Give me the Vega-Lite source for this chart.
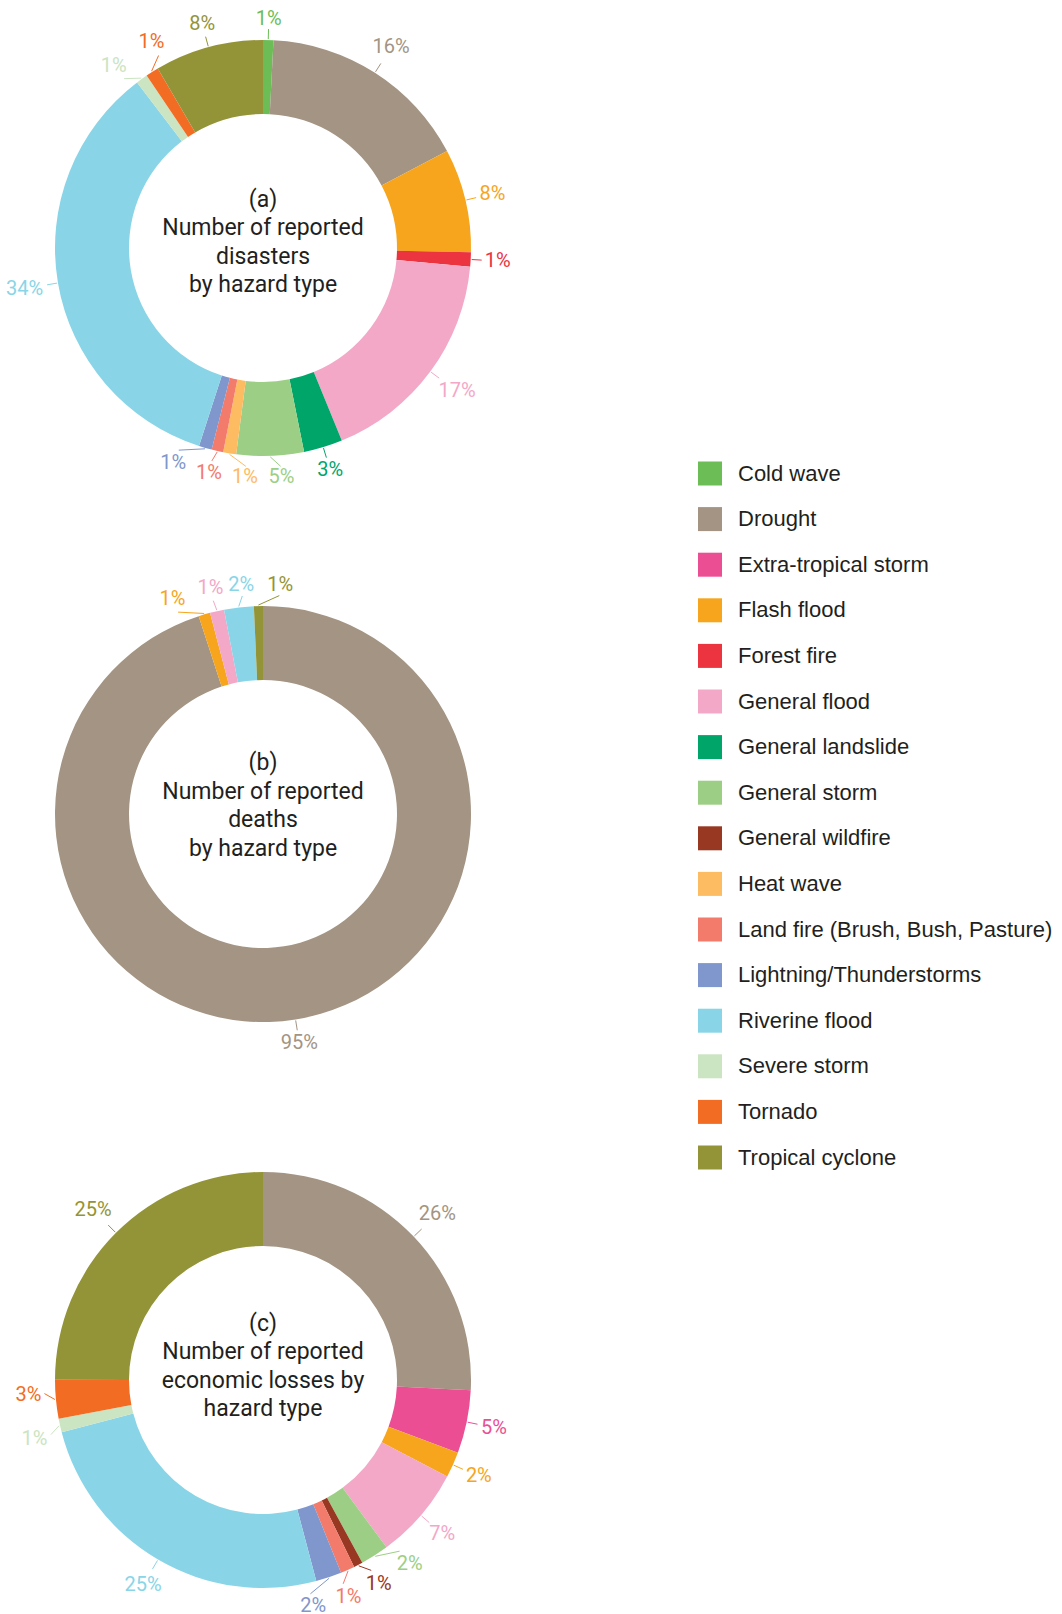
{
  "$schema": "https://vega.github.io/schema/vega-lite/v6.json",
  "background": "white",
  "padding": 0,
  "spacing": 96,
  "bounds": "flush",
  "datasets": {
    "slices": [
      {"chart": "a", "hazard": "Cold wave", "value": 0.8, "label": "1%"},
      {"chart": "a", "hazard": "Drought", "value": 16.4, "label": "16%"},
      {"chart": "a", "hazard": "Flash flood", "value": 8.0, "label": "8%"},
      {"chart": "a", "hazard": "Forest fire", "value": 1.1, "label": "1%"},
      {"chart": "a", "hazard": "General flood", "value": 17.3, "label": "17%"},
      {"chart": "a", "hazard": "General landslide", "value": 3.0, "label": "3%"},
      {"chart": "a", "hazard": "General storm", "value": 5.2, "label": "5%"},
      {"chart": "a", "hazard": "Heat wave", "value": 1.0, "label": "1%"},
      {"chart": "a", "hazard": "Land fire (Brush, Bush, Pasture)", "value": 0.9, "label": "1%"},
      {"chart": "a", "hazard": "Lightning/Thunderstorms", "value": 1.0, "label": "1%"},
      {"chart": "a", "hazard": "Riverine flood", "value": 34.5, "label": "34%"},
      {"chart": "a", "hazard": "Severe storm", "value": 0.9, "label": "1%"},
      {"chart": "a", "hazard": "Tornado", "value": 1.0, "label": "1%"},
      {"chart": "a", "hazard": "Tropical cyclone", "value": 8.4, "label": "8%"},
      {"chart": "b", "hazard": "Drought", "value": 95.0, "label": "95%"},
      {"chart": "b", "hazard": "Flash flood", "value": 0.9, "label": "1%"},
      {"chart": "b", "hazard": "General flood", "value": 1.1, "label": "1%"},
      {"chart": "b", "hazard": "Riverine flood", "value": 2.3, "label": "2%"},
      {"chart": "b", "hazard": "Tropical cyclone", "value": 0.7, "label": "1%"},
      {"chart": "c", "hazard": "Drought", "value": 25.8, "label": "26%"},
      {"chart": "c", "hazard": "Extra-tropical storm", "value": 4.9, "label": "5%"},
      {"chart": "c", "hazard": "Flash flood", "value": 2.0, "label": "2%"},
      {"chart": "c", "hazard": "General flood", "value": 7.2, "label": "7%"},
      {"chart": "c", "hazard": "General storm", "value": 2.2, "label": "2%"},
      {"chart": "c", "hazard": "General wildfire", "value": 0.7, "label": "1%"},
      {"chart": "c", "hazard": "Land fire (Brush, Bush, Pasture)", "value": 1.1, "label": "1%"},
      {"chart": "c", "hazard": "Lightning/Thunderstorms", "value": 2.0, "label": "2%"},
      {"chart": "c", "hazard": "Riverine flood", "value": 25.1, "label": "25%"},
      {"chart": "c", "hazard": "Severe storm", "value": 1.05, "label": "1%"},
      {"chart": "c", "hazard": "Tornado", "value": 3.0, "label": "3%"},
      {"chart": "c", "hazard": "Tropical cyclone", "value": 25.0, "label": "25%"}
    ]
  },
  "vconcat": [
    {
      "width": 526,
      "height": 470,
      "layer": [
        {
          "data": {"name": "slices"},
          "transform": [{"filter": "datum.chart == 'a'"}],
          "mark": {"type": "arc", "innerRadius": 134, "outerRadius": 208},
          "encoding": {
            "theta": {"field": "value", "type": "quantitative", "stack": true},
            "order": {"field": "hazard", "type": "ordinal", "sort": "ascending"},
            "x": {"datum": 0, "type": "quantitative", "scale": {"domain": [-263, 263], "nice": false, "zero": false}, "axis": null},
            "y": {"datum": 0, "type": "quantitative", "scale": {"domain": [-222, 248], "nice": false, "zero": false}, "axis": null},
            "color": {
              "field": "hazard", "type": "nominal",
              "scale": {
                "domain": ["Cold wave", "Drought", "Extra-tropical storm", "Flash flood", "Forest fire", "General flood", "General landslide", "General storm", "General wildfire", "Heat wave", "Land fire (Brush, Bush, Pasture)", "Lightning/Thunderstorms", "Riverine flood", "Severe storm", "Tornado", "Tropical cyclone"],
                "range": ["#6cbd56", "#a39483", "#ec4e94", "#f6a51d", "#ec3340", "#f3a8c8", "#00a56a", "#9ccf85", "#983722", "#fdbb62", "#f27b6c", "#7f97cc", "#89d5e7", "#cbe4c1", "#f36c24", "#939437"]
              },
              "legend": {
                "orient": "none", "legendX": 698, "legendY": 461.5, "title": null,
                "symbolType": "square", "symbolSize": 576, "symbolStrokeWidth": 0, "symbolOpacity": 1,
                "labelFont": "Liberation Sans", "labelFontSize": 22, "labelColor": "#231f20",
                "labelLimit": 500, "labelOffset": 16, "rowPadding": 21.6, "padding": 0
              }
            }
          }
        },
        {
          "data": {"name": "slices"},
          "transform": [
            {"filter": "datum.chart == 'a'"},
            {"stack": "value", "groupby": ["chart"], "sort": [{"field": "hazard", "order": "ascending"}], "as": ["v0", "v1"]},
            {"joinaggregate": [{"op": "sum", "field": "value", "as": "total"}]},
            {"calculate": "PI * (datum.v0 + datum.v1) / datum.total", "as": "a0"},
            {"window": [{"op": "lag", "field": "a0", "as": "p0"}, {"op": "lead", "field": "a0", "as": "n0"}], "sort": [{"field": "hazard", "order": "ascending"}]},
            {"calculate": "datum.a0 + (isValid(datum.p0) ? max(0, 0.19 - datum.a0 + datum.p0) / 2 : 0) - (isValid(datum.n0) ? max(0, 0.19 - datum.n0 + datum.a0) / 2 : 0)", "as": "a1"},
            {"window": [{"op": "lag", "field": "a1", "as": "p1"}, {"op": "lead", "field": "a1", "as": "n1"}], "sort": [{"field": "hazard", "order": "ascending"}]},
            {"calculate": "datum.a1 + (isValid(datum.p1) ? max(0, 0.19 - datum.a1 + datum.p1) / 2 : 0) - (isValid(datum.n1) ? max(0, 0.19 - datum.n1 + datum.a1) / 2 : 0)", "as": "a2"},
            {"window": [{"op": "lag", "field": "a2", "as": "p2"}, {"op": "lead", "field": "a2", "as": "n2"}], "sort": [{"field": "hazard", "order": "ascending"}]},
            {"calculate": "datum.a2 + (isValid(datum.p2) ? max(0, 0.19 - datum.a2 + datum.p2) / 2 : 0) - (isValid(datum.n2) ? max(0, 0.19 - datum.n2 + datum.a2) / 2 : 0)", "as": "a3"},
            {"calculate": "222 + abs(sin(datum.a3)) * 6.3 * length(datum.label) + abs(cos(datum.a3)) * 7", "as": "lr"},
            {"calculate": "datum.lr * sin(datum.a3)", "as": "lx"},
            {"calculate": "datum.lr * cos(datum.a3)", "as": "ly"},
            {"calculate": "209 * sin(datum.a0)", "as": "sx"},
            {"calculate": "209 * cos(datum.a0)", "as": "sy"},
            {"calculate": "219 * sin(datum.a3)", "as": "ex"},
            {"calculate": "219 * cos(datum.a3)", "as": "ey"}
          ],
          "layer": [
            {
              "mark": {"type": "rule", "strokeWidth": 1},
              "encoding": {
                "x": {"field": "sx", "type": "quantitative", "scale": {"domain": [-263, 263], "nice": false, "zero": false}, "axis": null},
                "y": {"field": "sy", "type": "quantitative", "scale": {"domain": [-222, 248], "nice": false, "zero": false}, "axis": null},
                "x2": {"field": "ex"},
                "y2": {"field": "ey"},
                "color": {"field": "hazard", "type": "nominal", "legend": null}
              }
            },
            {
              "mark": {"type": "text", "font": "Roboto", "fontSize": 20, "align": "center", "baseline": "middle"},
              "encoding": {
                "x": {"field": "lx", "type": "quantitative", "scale": {"domain": [-263, 263], "nice": false, "zero": false}, "axis": null},
                "y": {"field": "ly", "type": "quantitative", "scale": {"domain": [-222, 248], "nice": false, "zero": false}, "axis": null},
                "text": {"field": "label"},
                "color": {"field": "hazard", "type": "nominal", "legend": null}
              }
            }
          ]
        },
        {
          "data": {"values": [{"panel": "a"}]},
          "mark": {"type": "text", "font": "Roboto", "fontSize": 23, "lineHeight": 28.5, "color": "#231f20", "align": "center", "baseline": "middle"},
          "encoding": {
            "x": {"datum": 0, "type": "quantitative", "scale": {"domain": [-263, 263], "nice": false, "zero": false}, "axis": null},
            "y": {"datum": 48.25, "type": "quantitative", "scale": {"domain": [-222, 248], "nice": false, "zero": false}, "axis": null},
            "text": {"value": ["(a)", "Number of reported", "disasters", "by hazard type"]}
          }
        }
      ]
    },
    {
      "width": 526,
      "height": 470,
      "layer": [
        {
          "data": {"name": "slices"},
          "transform": [{"filter": "datum.chart == 'b'"}],
          "mark": {"type": "arc", "innerRadius": 134, "outerRadius": 208},
          "encoding": {
            "theta": {"field": "value", "type": "quantitative", "stack": true},
            "order": {"field": "hazard", "type": "ordinal", "sort": "ascending"},
            "x": {"datum": 0, "type": "quantitative", "scale": {"domain": [-263, 263], "nice": false, "zero": false}, "axis": null},
            "y": {"datum": 0, "type": "quantitative", "scale": {"domain": [-222, 248], "nice": false, "zero": false}, "axis": null},
            "color": {
              "field": "hazard", "type": "nominal",
              "legend": {
                "orient": "none", "legendX": 698, "legendY": 461.5, "title": null,
                "symbolType": "square", "symbolSize": 576, "symbolStrokeWidth": 0, "symbolOpacity": 1,
                "labelFont": "Liberation Sans", "labelFontSize": 22, "labelColor": "#231f20",
                "labelLimit": 500, "labelOffset": 16, "rowPadding": 21.6, "padding": 0
              }
            }
          }
        },
        {
          "data": {"name": "slices"},
          "transform": [
            {"filter": "datum.chart == 'b'"},
            {"stack": "value", "groupby": ["chart"], "sort": [{"field": "hazard", "order": "ascending"}], "as": ["v0", "v1"]},
            {"joinaggregate": [{"op": "sum", "field": "value", "as": "total"}]},
            {"calculate": "PI * (datum.v0 + datum.v1) / datum.total", "as": "a0"},
            {"window": [{"op": "lag", "field": "a0", "as": "p0"}, {"op": "lead", "field": "a0", "as": "n0"}], "sort": [{"field": "hazard", "order": "ascending"}]},
            {"calculate": "datum.a0 + (isValid(datum.p0) ? max(0, 0.19 - datum.a0 + datum.p0) / 2 : 0) - (isValid(datum.n0) ? max(0, 0.19 - datum.n0 + datum.a0) / 2 : 0)", "as": "a1"},
            {"window": [{"op": "lag", "field": "a1", "as": "p1"}, {"op": "lead", "field": "a1", "as": "n1"}], "sort": [{"field": "hazard", "order": "ascending"}]},
            {"calculate": "datum.a1 + (isValid(datum.p1) ? max(0, 0.19 - datum.a1 + datum.p1) / 2 : 0) - (isValid(datum.n1) ? max(0, 0.19 - datum.n1 + datum.a1) / 2 : 0)", "as": "a2"},
            {"window": [{"op": "lag", "field": "a2", "as": "p2"}, {"op": "lead", "field": "a2", "as": "n2"}], "sort": [{"field": "hazard", "order": "ascending"}]},
            {"calculate": "datum.a2 + (isValid(datum.p2) ? max(0, 0.19 - datum.a2 + datum.p2) / 2 : 0) - (isValid(datum.n2) ? max(0, 0.19 - datum.n2 + datum.a2) / 2 : 0)", "as": "a3"},
            {"calculate": "222 + abs(sin(datum.a3)) * 6.3 * length(datum.label) + abs(cos(datum.a3)) * 7", "as": "lr"},
            {"calculate": "datum.lr * sin(datum.a3)", "as": "lx"},
            {"calculate": "datum.lr * cos(datum.a3)", "as": "ly"},
            {"calculate": "209 * sin(datum.a0)", "as": "sx"},
            {"calculate": "209 * cos(datum.a0)", "as": "sy"},
            {"calculate": "219 * sin(datum.a3)", "as": "ex"},
            {"calculate": "219 * cos(datum.a3)", "as": "ey"}
          ],
          "layer": [
            {
              "mark": {"type": "rule", "strokeWidth": 1},
              "encoding": {
                "x": {"field": "sx", "type": "quantitative", "scale": {"domain": [-263, 263], "nice": false, "zero": false}, "axis": null},
                "y": {"field": "sy", "type": "quantitative", "scale": {"domain": [-222, 248], "nice": false, "zero": false}, "axis": null},
                "x2": {"field": "ex"},
                "y2": {"field": "ey"},
                "color": {"field": "hazard", "type": "nominal", "legend": null}
              }
            },
            {
              "mark": {"type": "text", "font": "Roboto", "fontSize": 20, "align": "center", "baseline": "middle"},
              "encoding": {
                "x": {"field": "lx", "type": "quantitative", "scale": {"domain": [-263, 263], "nice": false, "zero": false}, "axis": null},
                "y": {"field": "ly", "type": "quantitative", "scale": {"domain": [-222, 248], "nice": false, "zero": false}, "axis": null},
                "text": {"field": "label"},
                "color": {"field": "hazard", "type": "nominal", "legend": null}
              }
            }
          ]
        },
        {
          "data": {"values": [{"panel": "b"}]},
          "mark": {"type": "text", "font": "Roboto", "fontSize": 23, "lineHeight": 28.5, "color": "#231f20", "align": "center", "baseline": "middle"},
          "encoding": {
            "x": {"datum": 0, "type": "quantitative", "scale": {"domain": [-263, 263], "nice": false, "zero": false}, "axis": null},
            "y": {"datum": 50.75, "type": "quantitative", "scale": {"domain": [-222, 248], "nice": false, "zero": false}, "axis": null},
            "text": {"value": ["(b)", "Number of reported", "deaths", "by hazard type"]}
          }
        }
      ]
    },
    {
      "width": 526,
      "height": 470,
      "layer": [
        {
          "data": {"name": "slices"},
          "transform": [{"filter": "datum.chart == 'c'"}],
          "mark": {"type": "arc", "innerRadius": 134, "outerRadius": 208},
          "encoding": {
            "theta": {"field": "value", "type": "quantitative", "stack": true},
            "order": {"field": "hazard", "type": "ordinal", "sort": "ascending"},
            "x": {"datum": 0, "type": "quantitative", "scale": {"domain": [-263, 263], "nice": false, "zero": false}, "axis": null},
            "y": {"datum": 0, "type": "quantitative", "scale": {"domain": [-222, 248], "nice": false, "zero": false}, "axis": null},
            "color": {
              "field": "hazard", "type": "nominal",
              "legend": {
                "orient": "none", "legendX": 698, "legendY": 461.5, "title": null,
                "symbolType": "square", "symbolSize": 576, "symbolStrokeWidth": 0, "symbolOpacity": 1,
                "labelFont": "Liberation Sans", "labelFontSize": 22, "labelColor": "#231f20",
                "labelLimit": 500, "labelOffset": 16, "rowPadding": 21.6, "padding": 0
              }
            }
          }
        },
        {
          "data": {"name": "slices"},
          "transform": [
            {"filter": "datum.chart == 'c'"},
            {"stack": "value", "groupby": ["chart"], "sort": [{"field": "hazard", "order": "ascending"}], "as": ["v0", "v1"]},
            {"joinaggregate": [{"op": "sum", "field": "value", "as": "total"}]},
            {"calculate": "PI * (datum.v0 + datum.v1) / datum.total", "as": "a0"},
            {"window": [{"op": "lag", "field": "a0", "as": "p0"}, {"op": "lead", "field": "a0", "as": "n0"}], "sort": [{"field": "hazard", "order": "ascending"}]},
            {"calculate": "datum.a0 + (isValid(datum.p0) ? max(0, 0.19 - datum.a0 + datum.p0) / 2 : 0) - (isValid(datum.n0) ? max(0, 0.19 - datum.n0 + datum.a0) / 2 : 0)", "as": "a1"},
            {"window": [{"op": "lag", "field": "a1", "as": "p1"}, {"op": "lead", "field": "a1", "as": "n1"}], "sort": [{"field": "hazard", "order": "ascending"}]},
            {"calculate": "datum.a1 + (isValid(datum.p1) ? max(0, 0.19 - datum.a1 + datum.p1) / 2 : 0) - (isValid(datum.n1) ? max(0, 0.19 - datum.n1 + datum.a1) / 2 : 0)", "as": "a2"},
            {"window": [{"op": "lag", "field": "a2", "as": "p2"}, {"op": "lead", "field": "a2", "as": "n2"}], "sort": [{"field": "hazard", "order": "ascending"}]},
            {"calculate": "datum.a2 + (isValid(datum.p2) ? max(0, 0.19 - datum.a2 + datum.p2) / 2 : 0) - (isValid(datum.n2) ? max(0, 0.19 - datum.n2 + datum.a2) / 2 : 0)", "as": "a3"},
            {"calculate": "222 + abs(sin(datum.a3)) * 6.3 * length(datum.label) + abs(cos(datum.a3)) * 7", "as": "lr"},
            {"calculate": "datum.lr * sin(datum.a3)", "as": "lx"},
            {"calculate": "datum.lr * cos(datum.a3)", "as": "ly"},
            {"calculate": "209 * sin(datum.a0)", "as": "sx"},
            {"calculate": "209 * cos(datum.a0)", "as": "sy"},
            {"calculate": "219 * sin(datum.a3)", "as": "ex"},
            {"calculate": "219 * cos(datum.a3)", "as": "ey"}
          ],
          "layer": [
            {
              "mark": {"type": "rule", "strokeWidth": 1},
              "encoding": {
                "x": {"field": "sx", "type": "quantitative", "scale": {"domain": [-263, 263], "nice": false, "zero": false}, "axis": null},
                "y": {"field": "sy", "type": "quantitative", "scale": {"domain": [-222, 248], "nice": false, "zero": false}, "axis": null},
                "x2": {"field": "ex"},
                "y2": {"field": "ey"},
                "color": {"field": "hazard", "type": "nominal", "legend": null}
              }
            },
            {
              "mark": {"type": "text", "font": "Roboto", "fontSize": 20, "align": "center", "baseline": "middle"},
              "encoding": {
                "x": {"field": "lx", "type": "quantitative", "scale": {"domain": [-263, 263], "nice": false, "zero": false}, "axis": null},
                "y": {"field": "ly", "type": "quantitative", "scale": {"domain": [-222, 248], "nice": false, "zero": false}, "axis": null},
                "text": {"field": "label"},
                "color": {"field": "hazard", "type": "nominal", "legend": null}
              }
            }
          ]
        },
        {
          "data": {"values": [{"panel": "c"}]},
          "mark": {"type": "text", "font": "Roboto", "fontSize": 23, "lineHeight": 28.5, "color": "#231f20", "align": "center", "baseline": "middle"},
          "encoding": {
            "x": {"datum": 0, "type": "quantitative", "scale": {"domain": [-263, 263], "nice": false, "zero": false}, "axis": null},
            "y": {"datum": 56.25, "type": "quantitative", "scale": {"domain": [-222, 248], "nice": false, "zero": false}, "axis": null},
            "text": {"value": ["(c)", "Number of reported", "economic losses by", "hazard type"]}
          }
        }
      ]
    }
  ],
  "config": {
    "view": {"stroke": null},
    "font": "Roboto"
  }
}
